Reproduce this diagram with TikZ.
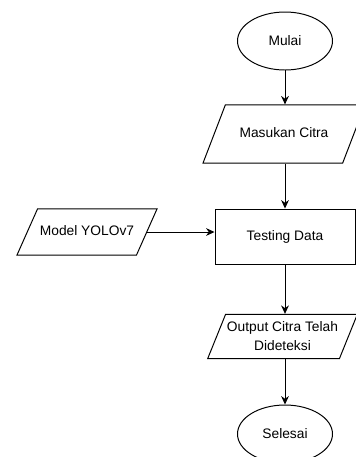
\documentclass[tikz,border=0pt]{standalone}
\usepackage{fontspec}
\setmainfont{Liberation Sans}
\usepackage{tikz}
\usetikzlibrary{shapes.geometric,arrows.meta}

\begin{document}
\begin{tikzpicture}[auto,font=\fontsize{9.8}{13.5}\selectfont]

%
% Styles
%
\tikzstyle{terminal} = [ellipse,draw,line width=0.7pt,minimum width=2.375cm,minimum height=1.45cm]
\tikzstyle{io}       = [trapezium,draw,line width=0.7pt,trapezium stretches body=true,
                        align=center,inner xsep=1pt,minimum height=0pt]
\tikzstyle{process}  = [rectangle,draw,line width=0.7pt,minimum width=3.5cm,minimum height=1.375cm]
\tikzstyle{edge}     = [->,>={Stealth[length=6pt,width=5.5pt]},line width=0.7pt]

\useasboundingbox (0,0) rectangle (8.9,-11.425);

\node[terminal] (mulai)   at (7.125, -1.025)  {Mulai};
\node[io,trapezium left angle=69,trapezium right angle=111,
      minimum width=4.05cm,text height=0.75em,text depth=0.25em,inner ysep=0.552cm]
                (masukan) at (7.1,   -3.35)   {Masukan Citra};
\node[process]  (testing) at (7.125, -5.9125) {Testing Data};
\node[io,trapezium left angle=66,trapezium right angle=114,
      minimum width=3.5cm,text height=0.75em,text depth=0.25em,inner ysep=0.40cm]
                (model)   at (2.175, -5.8)    {Model YOLOv7};
\node[io,trapezium left angle=68,trapezium right angle=112,
      minimum width=3.575cm,inner ysep=0.19cm]
                (output)  at (7.0625,-8.4125) {Output Citra Telah\\Dideteksi};
\node[terminal] (selesai) at (7.125, -10.85)  {Selesai};

\draw[edge] (mulai)   -- (mulai |- masukan.north);
\draw[edge] (masukan.south -| testing) -- (testing);
\draw[edge] (model.east) -- (model.east -| testing.west);
\draw[edge] (testing) -- (testing |- output.north);
\draw[edge] (output.south -| selesai) -- (selesai);

\end{tikzpicture}
\end{document}
